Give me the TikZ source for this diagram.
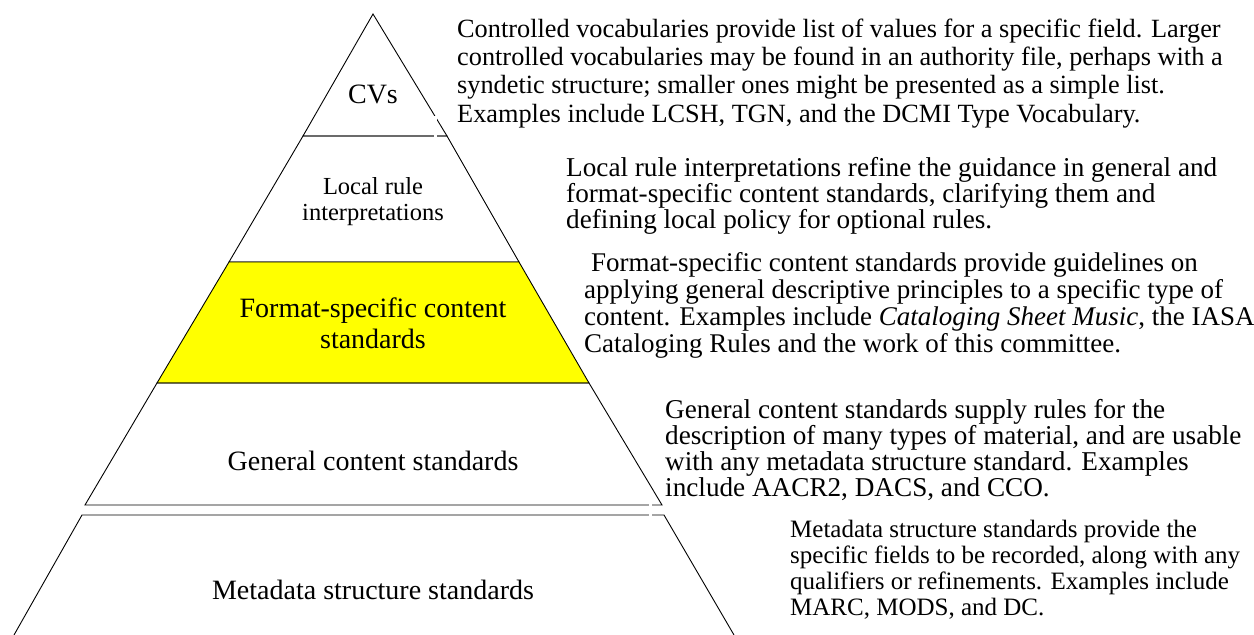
\documentclass[tikz,border=0pt]{standalone}
\usepackage{fontspec}
\setmainfont{Liberation Serif}
\begin{document}
\begin{tikzpicture}[x=1pt,y=-1pt]
\tikzset{
  layer/.style={draw=black, line width=0.9pt, line join=miter},
  lbl/.style={font=\fontsize{28}{31}\selectfont, align=center, inner sep=0pt},
  lblsmall/.style={font=\fontsize{24.5}{26}\selectfont, align=center, inner sep=0pt},
  desc/.style={align=left, anchor=base west, inner sep=0pt},
  gapmark/.style={draw=white, line width=3pt},
}
\useasboundingbox (0,0) rectangle (1254,635);
% corners
\coordinate (A) at (373,14);
\coordinate (c1l) at (303,136); \coordinate (c1r) at (447,136);
\coordinate (c2l) at (229,262); \coordinate (c2r) at (519,262);
\coordinate (c3l) at (157,383); \coordinate (c3r) at (589,383);
\coordinate (c4l) at (85,505);  \coordinate (c4r) at (662,505);
\coordinate (c5l) at (82,515);  \coordinate (c5r) at (664,515);
\coordinate (c6l) at (14,635);  \coordinate (c6r) at (734,635);
% layers
\draw[layer] (A) -- (c1r) -- (c1l) -- cycle;
\draw[layer] (c1l) -- (c1r) -- (c2r) -- (c2l) -- cycle;
\draw[layer, fill={rgb,255:red,255;green,255;blue,0}] (c2l) -- (c2r) -- (c3r) -- (c3l) -- cycle;
\draw[layer] (c3l) -- (c3r) -- (c4r) -- (c4l) -- cycle;
\draw[layer] (c6l) -- (c5l) -- (c5r) -- (c6r);
% small breaks in the outline
\coordinate (g1a) at (435,116); \coordinate (g1b) at (435,139);
\coordinate (g2a) at (650,500); \coordinate (g2b) at (650,519);
\draw[gapmark] (g1a) -- (g1b);
\draw[gapmark] (g2a) -- (g2b);
% labels
\node[lbl] (cv) at (373,94) {CVs};
\node[lblsmall] (lr) at (373,202) {Local rule\\interpretations};
\node[lbl] (fs) at (373,323) {Format-specific content\\standards};
\node[lbl] (gc) at (373,461) {General content standards};
\node[lbl] (ms) at (373,590) {Metadata structure standards};
% descriptions (anchored at the baseline of the last line)
\node[desc, font=\fontsize{26.3}{28.3}\selectfont] (d1) at (457,122) {Controlled vocabularies provide list of values for a specific field. Larger\\controlled vocabularies may be found in an authority file, perhaps with a\\syndetic structure; smaller ones might be presented as a simple list.\\Examples include LCSH, TGN, and the DCMI Type Vocabulary.};
\node[desc, font=\fontsize{27.2}{26}\selectfont] (d2) at (566,228) {Local rule interpretations refine the guidance in general and\\format-specific content standards, clarifying them and\\defining local policy for optional rules.};
\node[desc, font=\fontsize{27}{27}\selectfont] (d3) at (584,352) {\hspace*{7pt}Format-specific content standards provide guidelines on\\applying general descriptive principles to a specific type of\\content. Examples include \textit{Cataloging Sheet Music}, the IASA\\Cataloging Rules and the work of this committee.};
\node[desc, font=\fontsize{27.2}{26}\selectfont] (d4) at (665,496) {General content standards supply rules for the\\description of many types of material, and are usable\\with any metadata structure standard. Examples\\include AACR2, DACS, and CCO.};
\node[desc, font=\fontsize{25}{26}\selectfont] (d5) at (790,615) {Metadata structure standards provide the\\specific fields to be recorded, along with any\\qualifiers or refinements. Examples include\\MARC, MODS, and DC.};
\end{tikzpicture}
\end{document}
